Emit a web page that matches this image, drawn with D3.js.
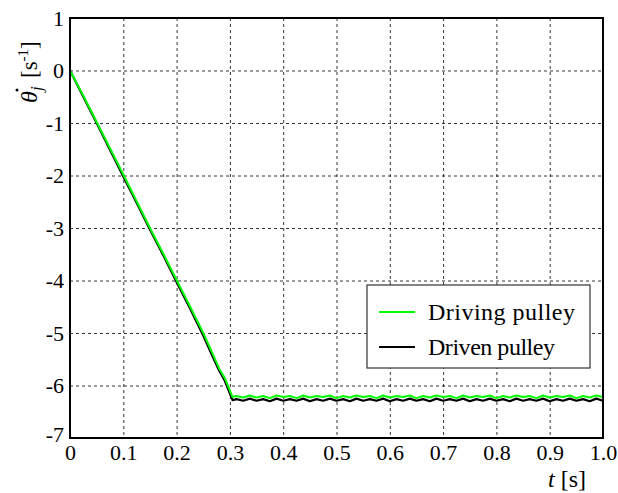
<!DOCTYPE html>
<html>
<head>
<meta charset="utf-8">
<script src="https://cdn.jsdelivr.net/npm/d3@7"></script>
<style>
  body { margin: 0; background: #fff; }
  svg { display: block; }
  text { font-family: "Liberation Serif"; }
</style>
</head>
<body>
<svg width="618" height="493"></svg>
<script>
// time samples [s]
const time = [0, 0.025, 0.05, 0.075, 0.1, 0.125, 0.15, 0.175, 0.2, 0.225, 0.25, 0.27, 0.28, 0.29, 0.305,
  0.3125, 0.325, 0.3375, 0.35, 0.3625, 0.375, 0.3875, 0.4, 0.4125, 0.425, 0.4375, 0.45, 0.4625, 0.475, 0.4875,
  0.5, 0.5125, 0.525, 0.5375, 0.55, 0.5625, 0.575, 0.5875, 0.6, 0.6125, 0.625, 0.6375, 0.65, 0.6625, 0.675, 0.6875,
  0.7, 0.7125, 0.725, 0.7375, 0.75, 0.7625, 0.775, 0.7875, 0.8, 0.8125, 0.825, 0.8375, 0.85, 0.8625, 0.875, 0.8875,
  0.9, 0.9125, 0.925, 0.9375, 0.95, 0.9625, 0.975, 0.9875, 1.0];

const driven = [0, -0.50, -1.00, -1.51, -2.02, -2.52, -3.03, -3.52, -4.03, -4.53, -5.05, -5.50, -5.72, -5.90, -6.28,
  -6.26, -6.29, -6.25, -6.29, -6.26, -6.30, -6.25, -6.29, -6.26, -6.29, -6.25, -6.30, -6.26, -6.29, -6.25,
  -6.29, -6.26, -6.30, -6.25, -6.29, -6.26, -6.29, -6.25, -6.30, -6.26, -6.29, -6.25, -6.29, -6.26, -6.30, -6.25,
  -6.29, -6.26, -6.29, -6.25, -6.30, -6.26, -6.29, -6.25, -6.29, -6.26, -6.30, -6.25, -6.29, -6.26, -6.29, -6.25,
  -6.30, -6.26, -6.29, -6.25, -6.29, -6.26, -6.30, -6.25, -6.29];

const driving = [0, -0.48, -0.98, -1.48, -1.98, -2.49, -3.00, -3.49, -3.99, -4.49, -5.00, -5.45, -5.68, -5.85, -6.22,
  -6.20, -6.23, -6.19, -6.23, -6.20, -6.24, -6.19, -6.22, -6.20, -6.24, -6.19, -6.23, -6.20, -6.22, -6.19,
  -6.24, -6.20, -6.23, -6.19, -6.22, -6.20, -6.24, -6.19, -6.23, -6.20, -6.22, -6.19, -6.24, -6.20, -6.23, -6.19,
  -6.22, -6.20, -6.24, -6.19, -6.23, -6.20, -6.22, -6.19, -6.24, -6.20, -6.23, -6.19, -6.22, -6.20, -6.24, -6.19,
  -6.23, -6.20, -6.22, -6.19, -6.24, -6.20, -6.23, -6.19, -6.22];

const xTicks = [0, 0.1, 0.2, 0.3, 0.4, 0.5, 0.6, 0.7, 0.8, 0.9, 1.0];
const xTickLabels = ["0", "0.1", "0.2", "0.3", "0.4", "0.5", "0.6", "0.7", "0.8", "0.9", "1.0"];
const yTicks = [1, 0, -1, -2, -3, -4, -5, -6, -7];
const seriesNames = ["Driving pulley", "Driven pulley"];
const seriesColors = ["#00ff00", "#000000"];

const FONT = "Liberation Serif";

let svg = d3.select("svg");
let margin = {top: 18, right: 15, bottom: 55, left: 70};
let width = 618 - margin.left - margin.right;
let height = 493 - margin.top - margin.bottom;

let xScale = d3.scaleLinear().domain([0, 1]).range([0, width]);
let yScale = d3.scaleLinear().domain([-7, 1]).range([height, 0]);

let g = svg.append("g")
    .attr("transform", "translate(" + margin.left + "," + margin.top + ")");

// grid
g.append("g")
    .call(d3.axisBottom(xScale).tickValues(xTicks).tickSize(height).tickFormat(""))
    .call(a => a.select(".domain").remove())
    .selectAll("line")
    .attr("stroke", "#000").attr("stroke-width", 0.8).attr("stroke-dasharray", "3,3");

g.append("g")
    .call(d3.axisLeft(yScale).tickValues(yTicks).tickSize(-width).tickFormat(""))
    .call(a => a.select(".domain").remove())
    .selectAll("line")
    .attr("stroke", "#000").attr("stroke-width", 0.8).attr("stroke-dasharray", "3,3");

// tick labels
let xAxis = g.append("g")
    .attr("transform", "translate(0," + height + ")")
    .call(d3.axisBottom(xScale).tickValues(xTicks).tickSize(0).tickPadding(6)
        .tickFormat((d, i) => xTickLabels[i]));
xAxis.attr("font-family", FONT);
xAxis.select(".domain").remove();
xAxis.selectAll("text").attr("font-size", 22).attr("font-family", FONT).attr("fill", "#000");

let yAxis = g.append("g")
    .call(d3.axisLeft(yScale).tickValues(yTicks).tickSize(0).tickPadding(6)
        .tickFormat(d => d < 0 ? "-" + Math.abs(d) : d));
yAxis.attr("font-family", FONT);
yAxis.select(".domain").remove();
yAxis.selectAll("text").attr("font-size", 22).attr("font-family", FONT).attr("fill", "#000");
yAxis.selectAll(".tick").filter(d => d === -7).select("text").attr("dy", "0.15em");

// lines
let line = d3.line()
    .x((d, i) => xScale(time[i]))
    .y(d => yScale(d));

g.append("path").datum(driven)
    .attr("fill", "none").attr("stroke", seriesColors[1]).attr("stroke-width", 2.2)
    .attr("stroke-linejoin", "round")
    .attr("d", line);

g.append("path").datum(driving)
    .attr("fill", "none").attr("stroke", seriesColors[0]).attr("stroke-width", 2)
    .attr("stroke-linejoin", "round")
    .attr("d", line);

// frame
g.append("rect")
    .attr("width", width).attr("height", height)
    .attr("fill", "none").attr("stroke", "#000").attr("stroke-width", 2);

// legend
let legend = g.append("g").attr("transform", "translate(297,267)");
legend.append("rect")
    .attr("width", 223).attr("height", 83)
    .attr("fill", "#fff").attr("stroke", "#333").attr("stroke-width", 1.2);
const legendLen = [147, 127];
seriesNames.forEach((name, i) => {
    let yy = 27 + i * 35;
    legend.append("line")
        .attr("x1", 12).attr("x2", 48).attr("y1", yy).attr("y2", yy)
        .attr("stroke", seriesColors[i]).attr("stroke-width", 2);
    legend.append("text")
        .attr("x", 61).attr("y", yy).attr("dy", "0.33em")
        .attr("font-family", FONT).attr("font-size", 24).attr("fill", "#000")
        .attr("textLength", legendLen[i]).attr("lengthAdjust", "spacing")
        .text(name);
});

// axis labels
svg.append("text")
    .attr("x", 586).attr("y", 487)
    .attr("text-anchor", "end")
    .attr("font-family", FONT).attr("font-size", 24)
    .html('<tspan font-style="italic">t</tspan> [s]');

let yl = svg.append("g").attr("transform", "translate(37,103) rotate(-90)")
    .attr("font-family", FONT);
yl.append("text").attr("x", 0).attr("y", 0)
    .attr("font-family", FONT).attr("font-size", 24).attr("font-style", "italic").text("θ");
yl.append("circle").attr("cx", 13).attr("cy", -20).attr("r", 1.5).attr("fill", "#000");
yl.append("text").attr("x", 12).attr("y", 5)
    .attr("font-family", FONT).attr("font-size", 17).attr("font-style", "italic").text("j");
yl.append("text").attr("x", 25).attr("y", 0)
    .attr("font-family", FONT).attr("font-size", 23)
    .html('[s<tspan font-size="15" dy="-9">-1</tspan><tspan dy="9">]</tspan>');
</script>
</body>
</html>
